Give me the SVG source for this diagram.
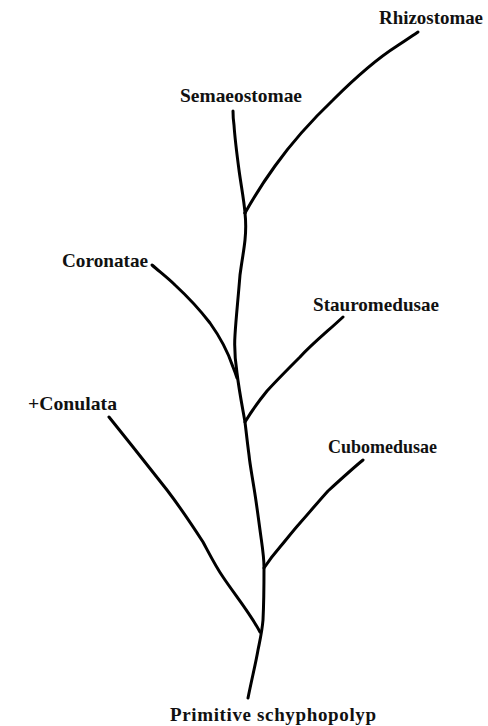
<svg xmlns="http://www.w3.org/2000/svg" width="488" height="726" viewBox="0 0 488 726">
<style>
.lbl{font-family:"Liberation Serif","Times New Roman",serif;font-weight:bold;font-size:19px;fill:#111}
.br{fill:none;stroke:#000;stroke-width:3;stroke-linecap:round;stroke-linejoin:round}
</style>
<rect width="488" height="726" fill="#fff"/>
<g id="connectors">
<path id="trunk" class="br" d="M248,698 C252,678 256,662 258,650 C260,640 262,632 263,620 C264,600 264,580 264,567 C264,556 262,545 260,530 C258,515 256,500 254,488 C252,475 250,465 249,455 C247,440 246,430 245,422 C242,405 239,390 237,373 C235,360 234,350 235,335 C236,318 238,300 240,275 C242,260 244,250 245,240 C246,230 246,222 245,213"/>
<path id="b-semaeostomae" class="br" d="M245,213 C244,200 241,185 239,170 C237,155 235,140 234,125 C233,118 233,113 233,111"/>
<path id="b-rhizostomae" class="br" d="M245,213 C250,204 262,184 275,166 C290,145 310,122 333,100 C355,78 375,60 397,46 C405,41 412,36 418,32"/>
<path id="b-coronatae" class="br" d="M152,265 C160,272 168,278 175,285 C188,297 200,310 210,323 C220,337 228,352 233,367 C235,372 236,375 237,378"/>
<path id="b-stauromedusae" class="br" d="M343,317 C328,331 313,343 300,357 C288,369 277,380 267,391 C258,402 251,412 245,422"/>
<path id="b-conulata" class="br" d="M109,417 C117,427 125,437 133,447 C145,462 156,476 167,490 C180,507 192,525 203,542 C210,555 216,567 223,577 C235,595 250,613 260,632"/>
<path id="b-cubomedusae" class="br" d="M363,460 C352,469 340,480 328,491 C318,502 309,513 300,523 C292,532 286,540 280,547 C273,555 268,562 264,568"/>
</g>
<g id="node-rhizostomae"><text class="lbl" x="379" y="23.5" textLength="104" lengthAdjust="spacingAndGlyphs">Rhizostomae</text></g>
<g id="node-semaeostomae"><text class="lbl" x="180" y="102" textLength="122" lengthAdjust="spacingAndGlyphs">Semaeostomae</text></g>
<g id="node-coronatae"><text class="lbl" x="62" y="267" textLength="86" lengthAdjust="spacingAndGlyphs">Coronatae</text></g>
<g id="node-stauromedusae"><text class="lbl" x="313" y="310.5" textLength="126" lengthAdjust="spacingAndGlyphs">Stauromedusae</text></g>
<g id="node-conulata"><text class="lbl" x="28" y="410" textLength="89" lengthAdjust="spacingAndGlyphs">+Conulata</text></g>
<g id="node-cubomedusae"><text class="lbl" x="328" y="453" textLength="109" lengthAdjust="spacingAndGlyphs">Cubomedusae</text></g>
<g id="node-root"><text class="lbl" x="170" y="721" textLength="206" lengthAdjust="spacing">Primitive schyphopolyp</text></g>
</svg>
